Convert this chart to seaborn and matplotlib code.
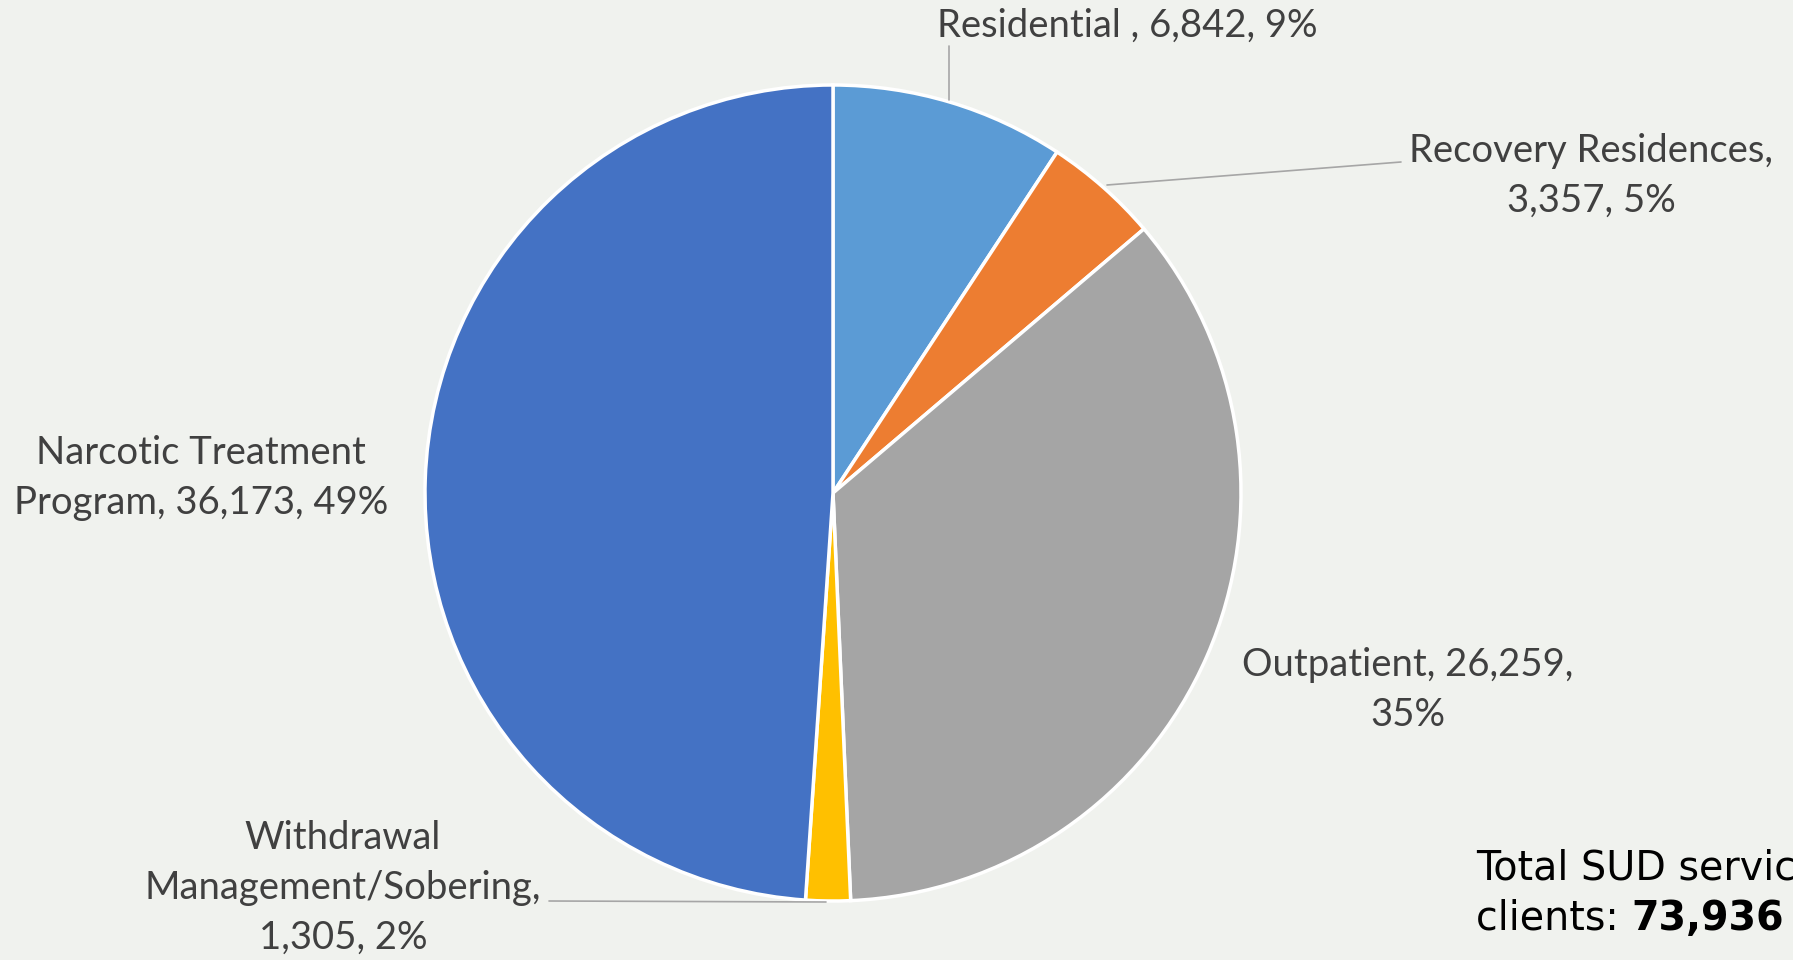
import matplotlib
matplotlib.use("Agg")
import matplotlib.pyplot as plt
import seaborn as sns

# data
categories = ["Residential", "Recovery Residences", "Outpatient",
              "Withdrawal Management/Sobering", "Narcotic Treatment Program"]
clients = [6842, 3357, 26259, 1305, 36173]
percents = ["9%", "5%", "35%", "2%", "49%"]
total_clients = 73936
colors = ["#5B9BD5", "#ED7D31", "#A5A5A5", "#FFC000", "#4472C4"]

sns.set_theme(style="white")
plt.rcParams["font.family"] = ["Lato", "DejaVu Sans"]

W, H = 1793, 960
bg = "#F0F2EE"
fig = plt.figure(figsize=(W / 100, H / 100), dpi=100, facecolor=bg)
ax = fig.add_axes([0, 0, 1, 1])
ax.set_facecolor(bg)

# pie in pixel-like data coords (y measured from bottom)
cx, cy, r = 833, H - 493, 408
ax.pie(clients, colors=colors, startangle=90, counterclock=False,
       center=(cx, cy), radius=r, frame=True,
       wedgeprops=dict(edgecolor="white", linewidth=2.5))
ax.set_xlim(0, W)
ax.set_ylim(0, H)
ax.set_aspect("equal")
ax.axis("off")

txt = dict(fontsize=27.5, color="#404040", ha="center", va="center",
           linespacing=1.48)
fmt = lambda v: f"{v:,}"

ax.text(1127, H - 26, f"{categories[0]} , {fmt(clients[0])}, {percents[0]}", **txt)
ax.plot([949, 949], [H - 46, H - 100], color="#A6A6A6", lw=1.2)

ax.text(1591, H - 176, f"{categories[1]},\n{fmt(clients[1])}, {percents[1]}", **txt)
ax.plot([1107, 1401], [H - 185, H - 162], color="#A6A6A6", lw=1.2)

ax.text(1408, H - 690, f"{categories[2]}, {fmt(clients[2])},\n{percents[2]}", **txt)

ax.text(343, H - 888, "Withdrawal\nManagement/Sobering,\n"
        f"{fmt(clients[3])}, {percents[3]}", **txt)
ax.plot([549, 826], [H - 901, H - 902], color="#A6A6A6", lw=1.2)

ax.text(201, H - 478, "Narcotic Treatment\n"
        f"Program, {fmt(clients[4])}, {percents[4]}", **txt)

# total annotation
ax.text(1476, H - 880, "Total SUD service", fontsize=28.5, color="black",
        family="DejaVu Sans", ha="left", va="baseline")
t = ax.text(1476, H - 930, "clients: ", fontsize=28.5, color="black",
            family="DejaVu Sans", ha="left", va="baseline")
ax.annotate(fmt(total_clients), xycoords=t, xy=(1, 0), va="bottom",
            fontsize=28.5, fontweight="bold", color="black", family="DejaVu Sans")

fig.savefig("out.png", dpi=100, facecolor=bg)
